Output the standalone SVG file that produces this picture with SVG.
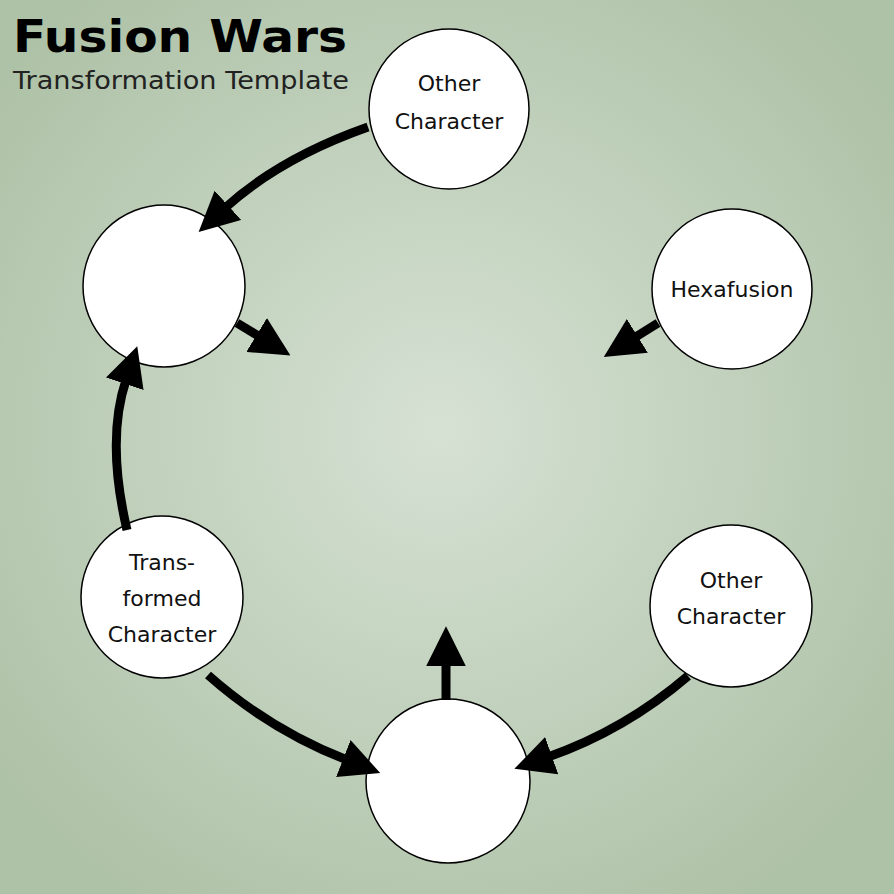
<svg xmlns="http://www.w3.org/2000/svg" width="894" height="894" viewBox="0 0 894 894">
<defs>
<radialGradient id="bg" cx="440" cy="430" r="560" gradientUnits="userSpaceOnUse">
<stop offset="0" stop-color="#d6e1d4"/>
<stop offset="1" stop-color="#aec2a7"/>
</radialGradient>
<marker id="ah" viewBox="0 0 10 10" refX="1" refY="5" markerWidth="4.4" markerHeight="4.4" orient="auto" markerUnits="strokeWidth">
<path d="M0,0 L10,5 L0,10 Z" fill="#000"/>
</marker>
<style>
.n{fill:#fff;stroke:#000;stroke-width:1.5}
.t{font-family:"DejaVu Sans","Liberation Sans",sans-serif;font-size:22px;text-anchor:middle;fill:#111}
.c{fill:none;stroke:#000;stroke-width:9;marker-end:url(#ah)}
</style>
</defs>
<rect width="894" height="894" fill="url(#bg)"/>
<text x="13" y="52" font-family="DejaVu Sans, sans-serif" font-weight="bold" font-size="44" fill="#000" textLength="334" lengthAdjust="spacingAndGlyphs">Fusion Wars</text>
<text x="13" y="89" font-family="DejaVu Sans, sans-serif" font-size="24" fill="#222" textLength="336" lengthAdjust="spacingAndGlyphs">Transformation Template</text>
<g id="n1"><circle class="n" cx="449" cy="109" r="80"/><text class="t" x="449" y="91">Other</text><text class="t" x="449" y="129">Character</text></g>
<g id="n2"><circle class="n" cx="164" cy="286" r="81"/></g>
<g id="n3"><circle class="n" cx="732" cy="289" r="80"/><text class="t" x="732" y="297">Hexafusion</text></g>
<g id="n4"><circle class="n" cx="162" cy="597" r="81"/><text class="t" x="162" y="570">Trans-</text><text class="t" x="162" y="606">formed</text><text class="t" x="162" y="642">Character</text></g>
<g id="n5"><circle class="n" cx="448" cy="781" r="82"/></g>
<g id="n6"><circle class="n" cx="731" cy="606" r="81"/><text class="t" x="731" y="588">Other</text><text class="t" x="731" y="624">Character</text></g>
<g id="connectors">
<path class="c" d="M368,127 Q280,158 225,208"/>
<path class="c" d="M237,323 L260,337"/>
<path class="c" d="M658,323 L634,338"/>
<path class="c" d="M127,530 Q106,440 126,380"/>
<path class="c" d="M208,675 Q270,730 347,760"/>
<path class="c" d="M688,676 Q625,730 548,757"/>
<path class="c" d="M446,700 L446,662"/>
</g>
</svg>
